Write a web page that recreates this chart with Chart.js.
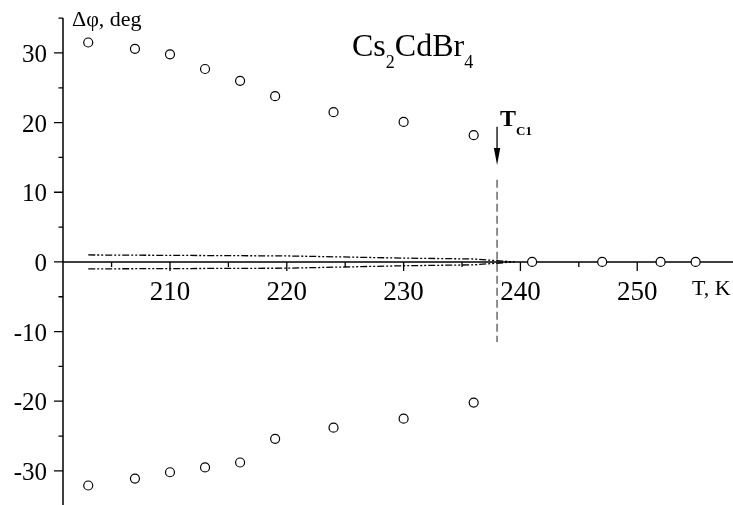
<!DOCTYPE html>
<html>
<head>
<meta charset="utf-8">
<script src="https://cdn.jsdelivr.net/npm/chart.js@4/dist/chart.umd.min.js"></script>
<style>
  html, body { margin: 0; padding: 0; background: #fff; overflow: hidden; }
  #wrap { width: 733px; height: 505px; }
</style>
</head>
<body>
<div id="wrap"><canvas id="c"></canvas></div>
<script>
// data
const tempLow   = [203, 207, 210, 213, 216, 219, 224, 230, 236];
const phaseUp   = [31.5, 30.6, 29.8, 27.7, 26.0, 23.8, 21.5, 20.1, 18.2];
const phaseDown = [-32.1, -31.1, -30.2, -29.5, -28.8, -25.4, -23.8, -22.5, -20.2];
const tempHigh  = [241, 247, 252, 255];
const phaseHigh = [0, 0, 0, 0];

// dash-dot envelope around zero
const envT    = [203, 220, 230, 236, 239.5];
const envUp   = [1.0, 0.86, 0.55, 0.42, 0];
const envDown = [-1.0, -0.9, -0.55, -0.42, 0];

// transition temperature marker
const Tc      = 238;
const tcSpan  = [11.8, -11.5];
const tcArrow = [19.4, 13.9];

const xMajor = [210, 220, 230, 240, 250];
const xMinor = [205, 215, 225, 235, 245, 255];
const yMajor = [-30, -20, -10, 0, 10, 20, 30];
const yMinor = [-35, -25, -15, -5, 5, 15, 25, 35];

const SERIF = '"Liberation Serif", "Times New Roman", serif';
const pts = (xs, ys) => xs.map((x, i) => ({ x, y: ys[i] }));

// circle markers
const circle = {
  showLine: false,
  pointRadius: 4.5,
  pointBorderWidth: 1.2,
  pointBorderColor: '#000',
  pointBackgroundColor: '#fff'
};

// dash-dot-dot envelope line
const envLine = {
  showLine: true,
  pointRadius: 0,
  borderColor: '#000',
  borderWidth: 1.3,
  borderDash: [7, 2, 2, 2, 2, 2],
  tension: 0
};

// axes, ticks, labels, annotations
const axesPlugin = {
  id: 'axes',
  beforeDatasetsDraw(chart) {
    const { ctx, chartArea: a, scales: { x, y } } = chart;
    const x0 = a.left, y0 = y.getPixelForValue(0);
    ctx.save();
    ctx.strokeStyle = '#000';
    ctx.lineWidth = 1.5;
    ctx.beginPath();
    ctx.moveTo(x0, a.top); ctx.lineTo(x0, a.bottom);
    ctx.moveTo(x0, y0); ctx.lineTo(a.right, y0);
    ctx.stroke();

    ctx.lineWidth = 1.3;
    ctx.beginPath();
    yMajor.forEach(v => { const p = y.getPixelForValue(v); ctx.moveTo(x0 - 9, p); ctx.lineTo(x0, p); });
    yMinor.forEach(v => { const p = y.getPixelForValue(v); ctx.moveTo(x0 - 4.5, p); ctx.lineTo(x0, p); });
    xMajor.forEach(v => { const p = x.getPixelForValue(v); ctx.moveTo(p, y0); ctx.lineTo(p, y0 + 9); });
    xMinor.forEach(v => { const p = x.getPixelForValue(v); ctx.moveTo(p, y0); ctx.lineTo(p, y0 + 5); });
    ctx.stroke();

    ctx.fillStyle = '#000';
    ctx.font = '25px ' + SERIF;
    ctx.textAlign = 'right';
    ctx.textBaseline = 'alphabetic';
    yMajor.forEach(v => ctx.fillText(String(v), 47, y.getPixelForValue(v) + 9));

    ctx.font = '27px ' + SERIF;
    ctx.textAlign = 'center';
    xMajor.forEach(v => ctx.fillText(String(v), x.getPixelForValue(v), y0 + 38));

    ctx.font = '22px ' + SERIF;
    ctx.textAlign = 'left';
    ctx.fillText('T, K', 692, y0 + 33);
    ctx.fillText('Δφ, deg', 72, 26);
    ctx.restore();
  },
  afterDatasetsDraw(chart) {
    const { ctx, scales: { x, y } } = chart;
    const px = x.getPixelForValue(Tc);
    const top = y.getPixelForValue(tcArrow[0]);
    const tip = y.getPixelForValue(tcArrow[1]);
    ctx.save();
    ctx.strokeStyle = '#000';
    ctx.fillStyle = '#000';
    ctx.lineWidth = 1.3;
    ctx.beginPath();
    ctx.moveTo(px, top); ctx.lineTo(px, tip - 10);
    ctx.stroke();
    ctx.beginPath();
    ctx.moveTo(px, tip);
    ctx.lineTo(px - 3.2, tip - 17);
    ctx.lineTo(px + 3.2, tip - 17);
    ctx.closePath();
    ctx.fill();

    // T_C1
    ctx.textAlign = 'left';
    ctx.textBaseline = 'alphabetic';
    ctx.font = 'bold 24px ' + SERIF;
    ctx.fillText('T', px + 3, 126);
    ctx.font = 'bold 13px ' + SERIF;
    ctx.fillText('C1', px + 19, 135);

    // Cs2CdBr4
    let tx = 352;
    const part = (s, size, base) => {
      ctx.font = size + 'px ' + SERIF;
      ctx.fillText(s, tx, base);
      tx += ctx.measureText(s).width;
    };
    part('Cs', 32, 56); part('2', 18, 68);
    part('CdBr', 32, 56); part('4', 18, 68);
    ctx.restore();
  }
};

new Chart(document.getElementById('c'), {
  type: 'scatter',
  data: {
    datasets: [
      { ...envLine, data: pts(envT, envUp) },
      { ...envLine, data: pts(envT, envDown) },
      {
        data: pts([Tc, Tc], tcSpan),
        showLine: true, pointRadius: 0,
        borderColor: '#444', borderWidth: 1.2, borderDash: [8, 4]
      },
      { ...circle, data: pts(tempLow, phaseUp) },
      { ...circle, data: pts(tempLow, phaseDown) },
      { ...circle, data: pts(tempHigh, phaseHigh) }
    ]
  },
  options: {
    responsive: true,
    maintainAspectRatio: false,
    animation: false,
    layout: { autoPadding: false, padding: { left: 63, top: 18, right: 0, bottom: 0 } },
    plugins: { legend: { display: false }, tooltip: { enabled: false } },
    scales: {
      x: { type: 'linear', min: 200.84, max: 258.2, display: false },
      y: { type: 'linear', min: -34.9, max: 35.02, display: false }
    }
  },
  plugins: [axesPlugin]
});
</script>
</body>
</html>
